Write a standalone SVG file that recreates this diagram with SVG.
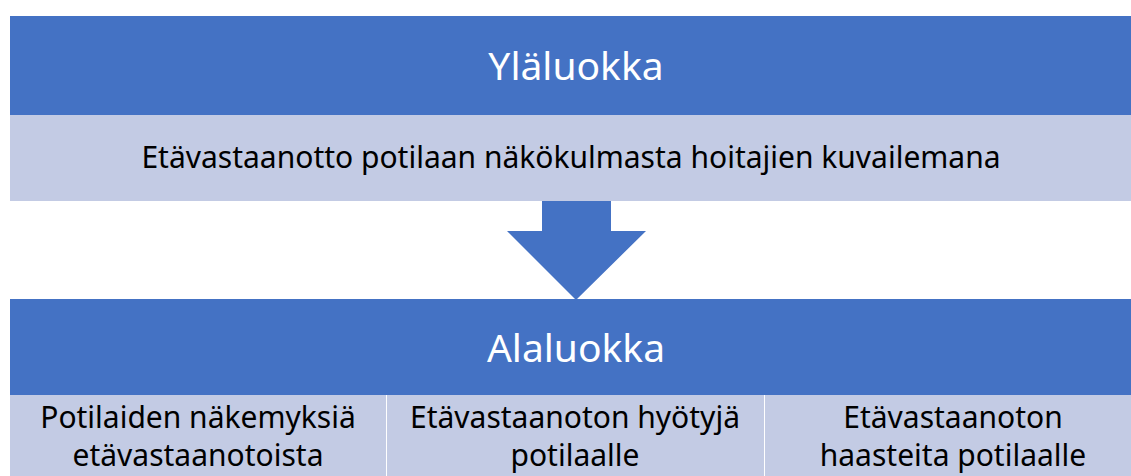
<svg xmlns="http://www.w3.org/2000/svg" width="1131" height="476" viewBox="0 0 1131 476">
<style>
.hdr{fill:#4472C4}
.cell{fill:#C3CBE4}
.t{font-family:"Noto Sans","Open Sans",sans-serif;fill:#000;text-anchor:middle;font-size:30px}
.h{font-family:"Noto Sans","Open Sans",sans-serif;fill:#fff;text-anchor:middle;font-size:39px}
</style>
<rect width="1131" height="476" fill="#fff"/>
<g id="top-header">
<rect class="hdr" x="10" y="16" width="1121" height="99"/>
<text class="h" x="576" y="80">Yläluokka</text>
</g>
<g id="top-content">
<rect class="cell" x="10" y="115" width="1121" height="86"/>
<text class="t" x="571" y="168">Etävastaanotto potilaan näkökulmasta hoitajien kuvailemana</text>
</g>
<g id="connectors">
<polygon class="hdr" points="542,201 611,201 611,231 646,231 576,300 507,231 542,231"/>
</g>
<g id="bottom-header">
<rect class="hdr" x="10" y="299" width="1121" height="96"/>
<text class="h" x="576" y="362">Alaluokka</text>
</g>
<g id="cell-1">
<rect class="cell" x="10" y="395" width="376" height="81"/>
<text class="t" x="198" y="428">Potilaiden näkemyksiä</text>
<text class="t" x="198" y="466">etävastaanotoista</text>
</g>
<g id="cell-2">
<rect class="cell" x="387" y="395" width="377" height="81"/>
<text class="t" x="575" y="428">Etävastaanoton hyötyjä</text>
<text class="t" x="575" y="466">potilaalle</text>
</g>
<g id="cell-3">
<rect class="cell" x="765" y="395" width="366" height="81"/>
<text class="t" x="953" y="428">Etävastaanoton</text>
<text class="t" x="953" y="466">haasteita potilaalle</text>
</g>
</svg>
